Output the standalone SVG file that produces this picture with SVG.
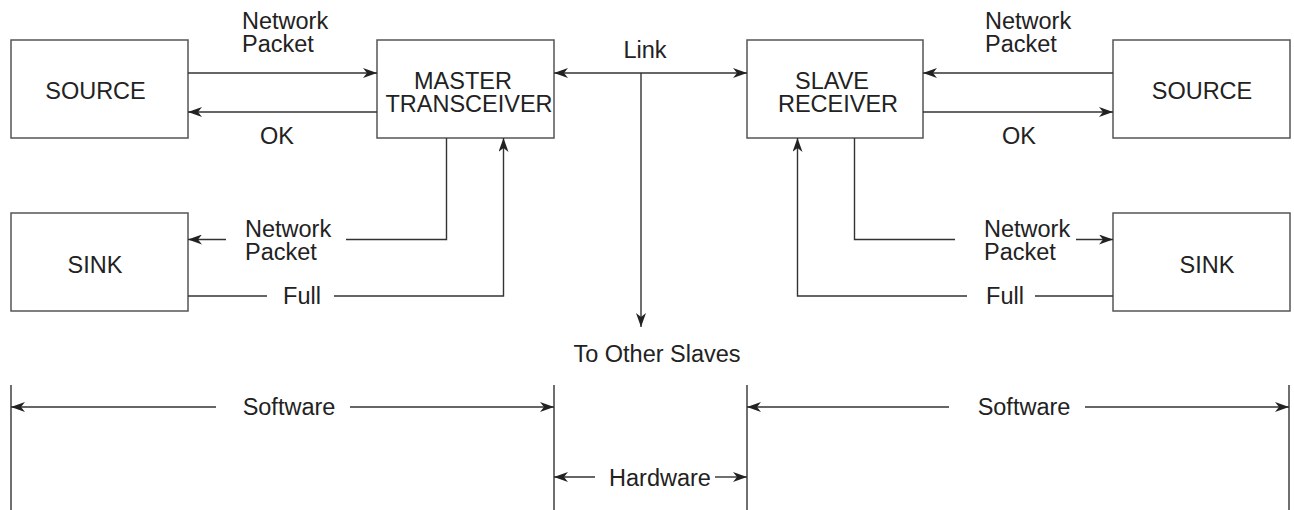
<svg xmlns="http://www.w3.org/2000/svg" width="1294" height="510" viewBox="0 0 1294 510">
<style>
.box{fill:#fff;stroke:#555;stroke-width:1.5}
.ln{fill:none;stroke:#333;stroke-width:1.4}
.t{font-family:"Liberation Sans",Arial,sans-serif;font-size:23.5px;fill:#222}
.m{text-anchor:middle}
</style>
<defs>
<marker id="ah" viewBox="-15 -5 15 10" refX="0" refY="0" markerWidth="15" markerHeight="10" markerUnits="userSpaceOnUse" orient="auto-start-reverse">
<path d="M0,0 L-14,-5 L-10,0 L-14,5 Z" fill="#222"/>
</marker>
</defs>
<rect width="1294" height="510" fill="#fff"/>

<g id="source-left"><rect class="box" x="11" y="40" width="177" height="98"/><text class="t m" x="95.5" y="99">SOURCE</text></g>
<g id="master"><rect class="box" x="377" y="40" width="177" height="98"/><text class="t m"><tspan x="463" y="89">MASTER</tspan><tspan x="469" y="112">TRANSCEIVER</tspan></text></g>
<g id="slave"><rect class="box" x="747" y="40" width="176" height="98"/><text class="t m"><tspan x="832" y="89">SLAVE</tspan><tspan x="838" y="112">RECEIVER</tspan></text></g>
<g id="source-right"><rect class="box" x="1113" y="40" width="177" height="98"/><text class="t m" x="1202" y="99">SOURCE</text></g>
<g id="sink-left"><rect class="box" x="11" y="213" width="177" height="98"/><text class="t m" x="95" y="273">SINK</text></g>
<g id="sink-right"><rect class="box" x="1113" y="213" width="177" height="98"/><text class="t m" x="1207" y="273">SINK</text></g>

<g id="connectors">
<line class="ln" x1="188" y1="73" x2="377" y2="73" marker-end="url(#ah)"/>
<line class="ln" x1="377" y1="112" x2="188" y2="112" marker-end="url(#ah)"/>
<line class="ln" x1="1113" y1="73" x2="923" y2="73" marker-end="url(#ah)"/>
<line class="ln" x1="923" y1="112" x2="1113" y2="112" marker-end="url(#ah)"/>
<line class="ln" x1="554" y1="73" x2="747" y2="73" marker-start="url(#ah)" marker-end="url(#ah)"/>
<line class="ln" x1="641" y1="73" x2="641" y2="327" marker-end="url(#ah)"/>
<polyline class="ln" points="446.5,138 446.5,239.5 346,239.5"/>
<line class="ln" x1="226" y1="239.5" x2="188" y2="239.5" marker-end="url(#ah)"/>
<line class="ln" x1="188" y1="296" x2="267" y2="296"/>
<polyline class="ln" points="334,296 503.5,296 503.5,138" marker-end="url(#ah)"/>
<polyline class="ln" points="854.5,138 854.5,239.5 955,239.5"/>
<line class="ln" x1="1076" y1="239.5" x2="1113" y2="239.5" marker-end="url(#ah)"/>
<line class="ln" x1="1113" y1="296" x2="1035" y2="296"/>
<polyline class="ln" points="967,296 797.5,296 797.5,138" marker-end="url(#ah)"/>
<line class="ln" x1="11" y1="385" x2="11" y2="510"/>
<line class="ln" x1="554" y1="385" x2="554" y2="510"/>
<line class="ln" x1="747" y1="385" x2="747" y2="510"/>
<line class="ln" x1="1289" y1="385" x2="1289" y2="510"/>
<line class="ln" x1="216" y1="407" x2="11" y2="407" marker-end="url(#ah)"/>
<line class="ln" x1="350" y1="407" x2="554" y2="407" marker-end="url(#ah)"/>
<line class="ln" x1="949" y1="407" x2="747" y2="407" marker-end="url(#ah)"/>
<line class="ln" x1="1085" y1="407" x2="1289" y2="407" marker-end="url(#ah)"/>
<line class="ln" x1="595" y1="477" x2="554" y2="477" marker-end="url(#ah)"/>
<line class="ln" x1="715" y1="477" x2="747" y2="477" marker-end="url(#ah)"/>
</g>

<g id="labels">
<text class="t"><tspan x="242" y="29">Network</tspan><tspan x="242" y="52">Packet</tspan></text>
<text class="t" x="260" y="144">OK</text>
<text class="t"><tspan x="985" y="29">Network</tspan><tspan x="985" y="52">Packet</tspan></text>
<text class="t" x="1002" y="144">OK</text>
<text class="t m" x="645" y="58">Link</text>
<text class="t"><tspan x="245" y="237">Network</tspan><tspan x="245" y="260">Packet</tspan></text>
<text class="t"><tspan x="984" y="237">Network</tspan><tspan x="984" y="260">Packet</tspan></text>
<text class="t m" x="302" y="304">Full</text>
<text class="t m" x="1005" y="304">Full</text>
<text class="t m" x="657" y="362">To Other Slaves</text>
<text class="t m" x="289" y="415">Software</text>
<text class="t m" x="1024" y="415">Software</text>
<text class="t m" x="660" y="486">Hardware</text>
</g>
</svg>
